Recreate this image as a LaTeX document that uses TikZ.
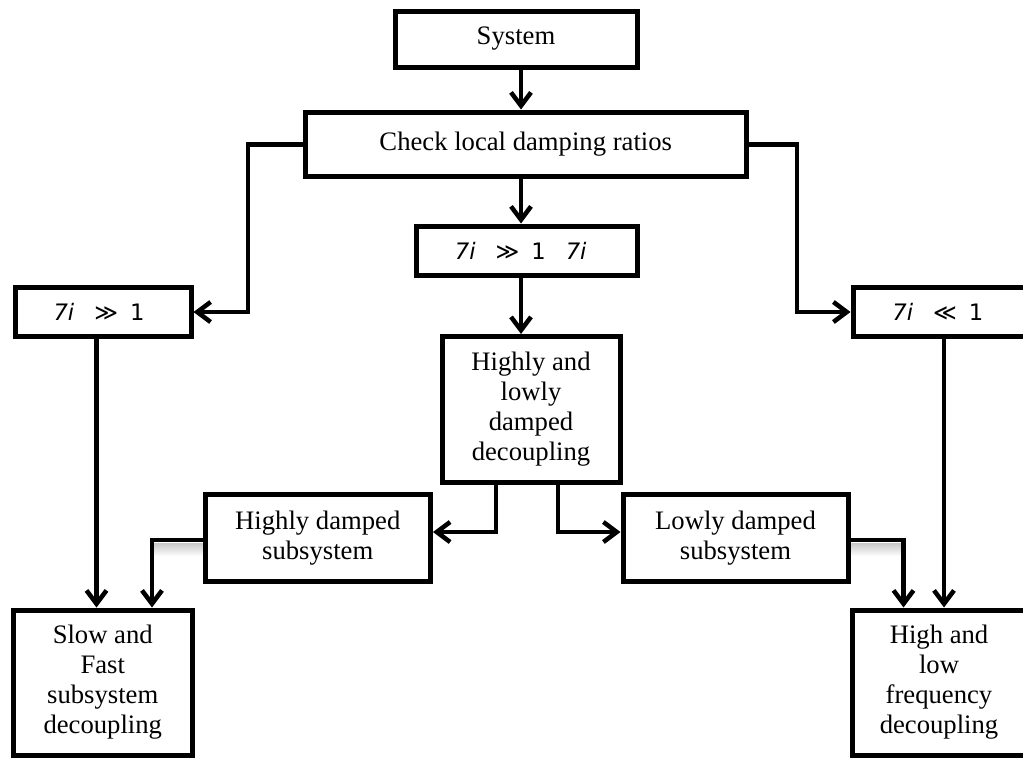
\documentclass[tikz,border=0pt]{standalone}
\usepackage{fontspec}
\setmainfont{Liberation Serif}
\newfontfamily\symfont{DejaVu Sans}
\usetikzlibrary{arrows.meta,calc}

\begin{document}
\begin{tikzpicture}[x=0.75pt,y=-0.75pt,
  box/.style={draw,line width=3.75pt,inner sep=0pt,align=center,
    font=\fontsize{20}{22.5}\selectfont},
  sz/.style 2 args={minimum width=#1*0.75pt,minimum height=#2*0.75pt},
  zeta/.style={font=\symfont\fontsize{17}{20}\selectfont},
  wire/.style={line width=3.4pt,line join=miter},
  arr/.style={wire,-{Straight Barb[length=10pt,width=15pt]}},
  haze/.style={top color=black!22,bottom color=white}]

\useasboundingbox (0,0) rectangle (1023,758);
\clip (0,0) rectangle (1023,758);

% soft shading under the two side feeds
\shade[haze] (154,543) rectangle (205,556);
\shade[haze] (848,543) rectangle (902,556);

% boxes
\node[box,sz={242}{56}] (sys) at (516,39) {System};
\node[box,sz={441.5}{64.5}] (chk) at (525.75,144.25) {Check local damping ratios};
\node[box,zeta,sz={221.5}{49.5}] (mid) at (526.75,250.75)
  {{\itshape 7i}\hspace{15pt}≫\hspace{9pt}1\hspace{15pt}{\itshape 7i}\hspace*{9pt}};
\node[box,sz={178}{146}] (hl) at (531,409.5)
  {Highly and\\lowly\\damped\\decoupling};
\node[box,zeta,sz={176}{48.5}] (lz) at (103,311.75)
  {{\itshape 7i}\hspace{15pt}≫\hspace{9pt}1\hspace*{6pt}};
\node[box,zeta,sz={187}{48.5}] (rz) at (946.5,311.75)
  {{\itshape 7i}\hspace{15pt}≪\hspace{9pt}1\hspace*{13pt}};
\node[box,sz={225.5}{87.5}] (hd) at (317.75,537.75) {Highly damped\\subsystem};
\node[box,sz={225}{87.5}] (ld) at (735.5,537.75) {Lowly damped\\subsystem};
\node[box,sz={179.5}{145}] (slow) at (102.75,682.5)
  {Slow and\\Fast\\subsystem\\decoupling};
\node[box,sz={188}{145}] (high) at (946,682.5)
  {\begin{tabular}{@{}c@{}}High and\\low\\frequency\\decoupling\end{tabular}\hspace*{10.5pt}};

% routing points of the connectors
\coordinate (colx) at (521,0);
\coordinate (lbend) at (248,312);
\coordinate (rbend) at (797,312);
\coordinate (hdin) at (496,532);
\coordinate (ldin) at (558,532);
\coordinate (hdout) at (152,540);
\coordinate (ldout) at (903.5,540);
\coordinate (lzdown) at (96.5,0);
\coordinate (rzdown) at (944,0);

% main column
\draw[arr] (colx |- sys.south) -- (colx |- chk.north);
\draw[arr] (colx |- chk.south) -- (colx |- mid.north);
\draw[arr] (colx |- mid.south) -- (colx |- hl.north);

% side branches
\draw[arr] (chk.west) -| (lbend) -- (lbend -| lz.east);
\draw[arr] (chk.east) -| (rbend) -- (rbend -| rz.west);
\draw[arr] (lzdown |- lz.south) -- (lzdown |- slow.north);
\draw[arr] (rzdown |- rz.south) -- (rzdown |- high.north);

% split of the decoupling box
\draw[arr] (hdin |- hl.south) -- (hdin) -- (hdin -| hd.east);
\draw[arr] (ldin |- hl.south) -- (ldin) -- (ldin -| ld.west);

% subsystems into the final boxes
\draw[arr] (hdout -| hd.west) -- (hdout) -- (hdout |- slow.north);
\draw[arr] (ldout -| ld.east) -- (ldout) -- (ldout |- high.north);

\end{tikzpicture}
\end{document}
